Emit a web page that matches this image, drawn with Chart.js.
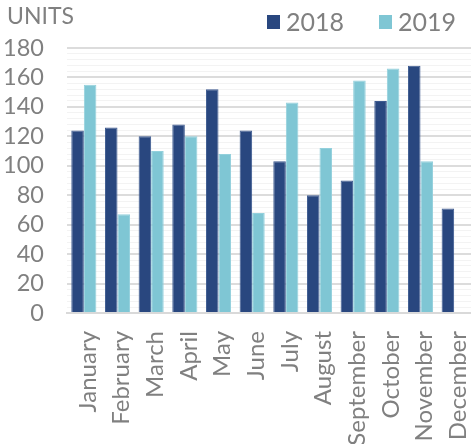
<!DOCTYPE html>
<html>
<head>
<meta charset="utf-8">
<script src="https://cdn.jsdelivr.net/npm/chart.js@4"></script>
<style>
  body { margin: 0; background: #fff; }
</style>
</head>
<body>
<canvas id="units-chart" width="471" height="444"></canvas>
<script>
const months = ['January', 'February', 'March', 'April', 'May', 'June', 'July', 'August', 'September', 'October', 'November', 'December'];
const units2018 = [124, 126, 120, 128, 152, 124, 103, 80, 90, 144, 168, 71];
const units2019 = [155, 67, 110, 120, 108, 68, 143, 112, 158, 166, 103, null];
const yTicks = [0, 20, 40, 60, 80, 100, 120, 140, 160, 180];

const grey = '#808080';
const font = 'Lato';

// "UNITS" label top-left and the legend top-right, drawn by hand
// so they sit where the original has them
const headerPlugin = {
  id: 'header',
  afterDraw(chart) {
    const ctx = chart.ctx;
    ctx.save();
    ctx.fillStyle = grey;
    ctx.textBaseline = 'middle';
    ctx.font = '23px ' + font;
    ctx.fillText('UNITS', 7, 17);

    const legendX = [267, 379];
    ctx.font = '25px ' + font;
    chart.data.datasets.forEach((ds, i) => {
      ctx.fillStyle = ds.backgroundColor;
      ctx.fillRect(legendX[i], 15, 13, 14);
      ctx.fillStyle = grey;
      ctx.fillText(ds.label, legendX[i] + 19, 23);
    });
    ctx.restore();
  }
};

new Chart(document.getElementById('units-chart'), {
  type: 'bar',
  data: {
    labels: months,
    datasets: [
      {
        label: '2018',
        data: units2018,
        backgroundColor: '#29477f',
        borderColor: '#3d5a90',
        borderWidth: 1,
        categoryPercentage: 0.745,
        barPercentage: 1.0
      },
      {
        label: '2019',
        data: units2019,
        backgroundColor: '#7fc6d4',
        borderColor: '#93d0dc',
        borderWidth: 1,
        categoryPercentage: 0.745,
        barPercentage: 1.0
      }
    ]
  },
  options: {
    responsive: false,
    animation: false,
    layout: { padding: { top: 48, right: -4, left: 0, bottom: 0 } },
    plugins: {
      legend: { display: false },
      tooltip: { enabled: false }
    },
    scales: {
      x: {
        grid: { display: false, drawTicks: false },
        border: { display: true, color: '#d9d9d9', width: 2 },
        ticks: {
          minRotation: 90,
          maxRotation: 90,
          autoSkip: false,
          padding: 18,
          labelOffset: 4,
          color: grey,
          font: { family: font, size: 24 }
        },
        afterFit(scale) {
          scale.height = 131;
          scale.paddingLeft = 0;
          scale.paddingRight = 0;
        }
      },
      y: {
        min: 0,
        max: 180,
        border: { display: false },
        grid: {
          drawTicks: false,
          color: ctx => (ctx.tick && ctx.tick.value % 20 === 0) ? '#dcdcdc' : '#f3f3f3',
          lineWidth: ctx => (ctx.tick && ctx.tick.value % 20 === 0) ? 2 : 1
        },
        ticks: {
          stepSize: 4,
          autoSkip: false,
          padding: 23,
          color: grey,
          font: { family: font, size: 23.5 },
          callback: v => yTicks.includes(v) ? v : ''
        },
        afterFit(scale) {
          scale.width = 67;
          scale.paddingTop = 0;
          scale.paddingBottom = 0;
        }
      }
    }
  },
  plugins: [headerPlugin]
});
</script>
</body>
</html>
